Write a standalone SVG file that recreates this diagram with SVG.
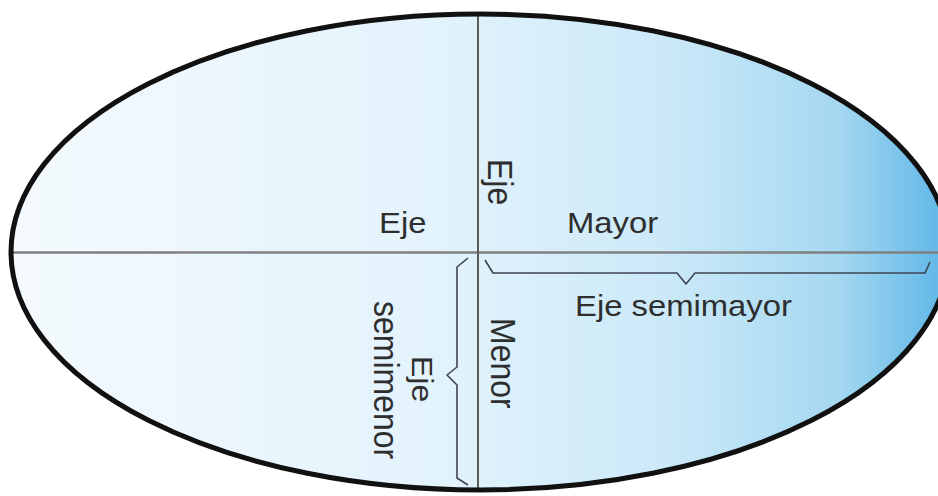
<svg xmlns="http://www.w3.org/2000/svg" width="938" height="496" viewBox="0 0 938 496">
  <defs>
    <linearGradient id="fill" x1="0" y1="0" x2="1" y2="0" gradientUnits="objectBoundingBox">
      <stop offset="0" stop-color="#f4fafe"/>
      <stop offset="0.45" stop-color="#e3f3fc"/>
      <stop offset="0.7" stop-color="#cbe9f8"/>
      <stop offset="0.88" stop-color="#a6d8f1"/>
      <stop offset="1" stop-color="#5cb5e6"/>
    </linearGradient>
    <clipPath id="clip">
      <ellipse cx="480" cy="252" rx="469" ry="238"/>
    </clipPath>
  </defs>
  <style>
    .lbl { font-family: "Liberation Sans", Arial, sans-serif; fill: #2e2e2e; }
    .h { font-size: 29.3px; }
    .v { font-size: 32px; }
    .axis { stroke: #808080; stroke-width: 2.6; fill: none; }
    .vaxis { stroke: #5a5a5a; stroke-width: 2; fill: none; }
    .brace { stroke: #3f4452; stroke-width: 1.6; fill: none; stroke-linejoin: round; }
  </style>

  <g id="ellipse">
    <ellipse cx="480" cy="252" rx="469" ry="238" fill="url(#fill)"/>
  </g>

  <g id="axes" clip-path="url(#clip)">
    <line class="axis" x1="0" y1="252.5" x2="938" y2="252.5"/>
    <line class="vaxis" x1="478" y1="0" x2="478" y2="496"/>
  </g>

  <g id="outline">
    <ellipse cx="480" cy="252" rx="469" ry="238" fill="none" stroke="#111" stroke-width="5"/>
  </g>

  <g id="connectors">
    <path class="brace" d="M485,260 L493,273 L677,273 L686,284 L695,273 L925,273 L930,262"/>
    <path class="brace" d="M468,258 L457,267 L457,367 L447,375 L457,385 L457,478 L468,485"/>
  </g>

  <g id="labels">
    <text class="lbl h" transform="translate(379,233) scale(1.12,1)">Eje</text>
    <text class="lbl h" transform="translate(567,233) scale(1.12,1)">Mayor</text>
    <text class="lbl h" transform="translate(575,316) scale(1.12,1)">Eje semimayor</text>
    <text class="lbl v" transform="translate(488,159) rotate(90) scale(1,1.12)">Eje</text>
    <text class="lbl v" transform="translate(491,318) rotate(90) scale(1,1.12)">Menor</text>
    <text class="lbl v" transform="translate(412,356) rotate(90) scale(1,0.95)">Eje</text>
    <text class="lbl v" transform="translate(374,301) rotate(90) scale(1,1.12)">semimenor</text>
  </g>
</svg>
